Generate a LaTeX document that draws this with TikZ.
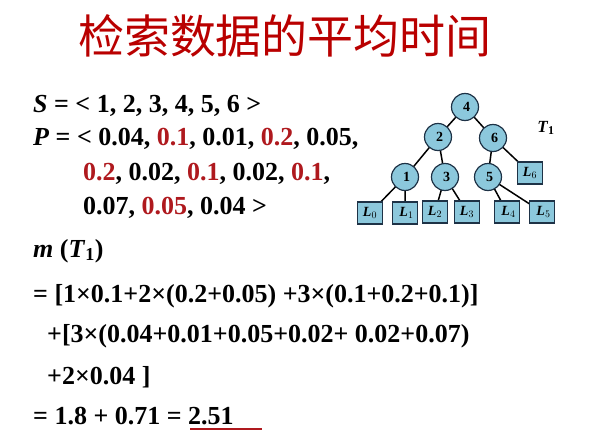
\documentclass[tikz,border=0pt]{standalone}
\usepackage{fontspec}
\setmainfont{Liberation Serif}
\newfontfamily\cjk{Noto Sans CJK SC}
\usetikzlibrary{backgrounds}
\definecolor{ttl}{RGB}{185,0,0}
\definecolor{rd}{RGB}{175,25,30}
\definecolor{nb}{RGB}{140,200,220}
\definecolor{ln}{RGB}{30,50,70}
\begin{document}
\begin{tikzpicture}[x=1pt,y=-1pt,
 tx/.style={anchor=base west,inner sep=0pt,font=\fontsize{26}{28}\selectfont\bfseries},
 cn/.style={circle,draw=ln,line width=1.2pt,fill=nb,minimum size=27pt,inner sep=0pt,font=\fontsize{14}{14}\selectfont\bfseries},
 lf/.style={rectangle,draw=ln,line width=1.2pt,fill=nb,minimum width=25pt,minimum height=22pt,inner sep=0pt,font=\fontsize{14}{14}\selectfont\bfseries\itshape},
 ed/.style={line width=1.5pt,black}]
\useasboundingbox (0,0) rectangle (606,442);
\node[anchor=center,text=ttl,font=\fontsize{46}{50}\selectfont\cjk] (title) at (285,36) {检索数据的平均时间};
\newcommand{\R}[1]{\textcolor{rd}{#1}}
\node[tx] (l1) at (33,112) {\textit{S} = < 1, 2, 3, 4, 5, 6 >};
\node[tx] (l2) at (33,145) {\textit{P} = < 0.04, \R{0.1}, 0.01, \R{0.2}, 0.05,};
\node[tx] (l3) at (83,180) {\R{0.2}, 0.02, \R{0.1}, 0.02, \R{0.1},};
\node[tx] (l4) at (83,214) {0.07, \R{0.05}, 0.04 >};
\node[tx] (l5) at (33,257) {\textit{m} (\textit{T}$_{\mathbf 1}$)};
\node[tx] (l6) at (33,302) {= [1×0.1+2×(0.2+0.05) +3×(0.1+0.2+0.1)]};
\node[tx] (l7) at (47,342) {+[3×(0.04+0.01+0.05+0.02+ 0.02+0.07)};
\node[tx] (l8) at (47,384) {+2×0.04 ]};
\node[tx] (l9) at (33,424) {= 1.8 + 0.71 = 2.51};
\coordinate (u1) at (190,429); \coordinate (u2) at (262,429);
\draw[rd,line width=1.5pt] (u1) -- (u2);
% tree
\node[cn] (n4) at (465,107) {\raisebox{-3pt}{\hspace{3pt}4}};
\node[cn] (n2) at (438,137) {\raisebox{-3pt}{\hspace{3pt}2}};
\node[cn] (n6) at (493,138) {\raisebox{-3pt}{\hspace{3pt}6}};
\node[cn] (n1) at (405,177) {\raisebox{-3pt}{\hspace{3pt}1}};
\node[cn] (n3) at (445,177) {\raisebox{-3pt}{\hspace{3pt}3}};
\node[cn] (n5) at (488,177) {\raisebox{-3pt}{\hspace{3pt}5}};
\node[lf] (L6) at (530,173) {L$_{6}$};
\node[lf] (L0) at (370,213) {L$_{0}$};
\node[lf] (L1) at (405,213) {\hspace{3pt}L$_{1}$};
\node[lf] (L2) at (435,212) {L$_{2}$};
\node[lf] (L3) at (467,212) {L$_{3}$};
\node[lf] (L4) at (507,212) {\hspace{3pt}L$_{4}$};
\node[lf] (L5) at (542,212) {\hspace{3pt}L$_{5}$};
\node[anchor=center,font=\fontsize{17}{17}\selectfont\bfseries] (t1) at (546,128) {\textit{T}$_{\mathbf 1}$};
\begin{scope}[on background layer]
\draw[ed] (n4.center)--(n2.center) (n4.center)--(n6.center) (n2.center)--(n1.center) (n2.center)--(n3.center) (n6.center)--(n5.center) (n6.center)--(L6.center)
 (n1.center)--(L0.center) (n1.center)--(L1.center) (n3.center)--(L2.center) (n3.center)--(L3.center) (n5.center)--(L4.center) (n5.center)--(L5.center);
\end{scope}
\end{tikzpicture}
\end{document}
